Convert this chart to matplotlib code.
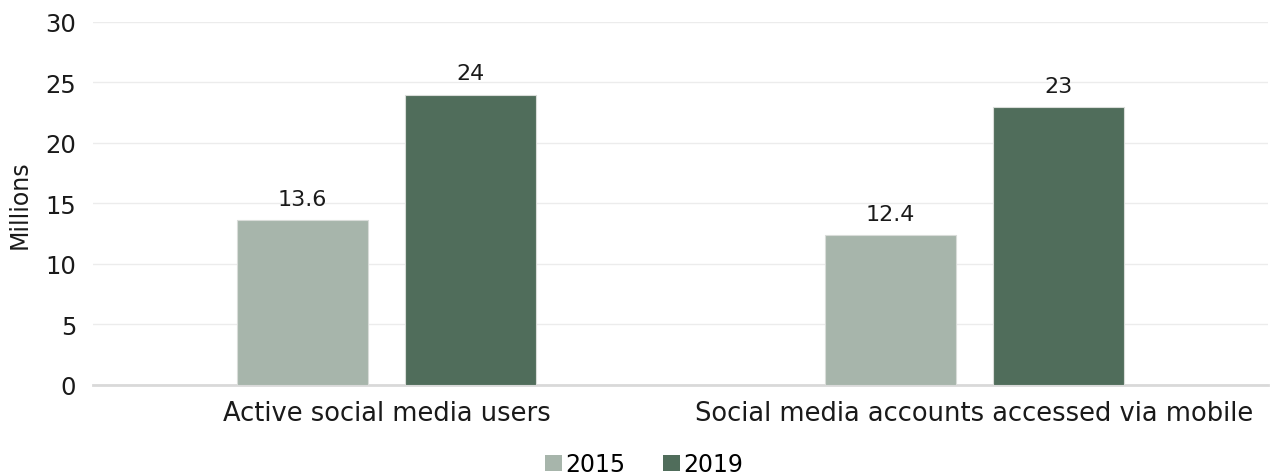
import numpy as np
import matplotlib
matplotlib.use('Agg')
import matplotlib.pyplot as plt
from matplotlib.patches import Patch

plt.rcParams['font.family'] = ['DejaVu Sans']

categories = ['Active social media users', 'Social media accounts accessed via mobile']
years = ['2015', '2019']
values_2015 = [13.6, 12.4]
values_2019 = [24, 23]
labels_2015 = ['13.6', '12.4']
labels_2019 = ['24', '23']

colors = ['#a7b5ab', '#506d5b']
txt = '#1a1a1a'

fig = plt.figure(figsize=(12.88, 4.77), dpi=100)
ax = fig.add_axes([0.0722, 0.1908, 0.9123, 0.761])

x = np.arange(len(categories))
w = 0.223
off = 0.143
b1 = ax.bar(x - off, values_2015, w, color=colors[0], edgecolor='#d9dcd9', linewidth=0.8, zorder=3)
b2 = ax.bar(x + off, values_2019, w, color=colors[1], edgecolor='#d9dcd9', linewidth=0.8, zorder=3)

for bars, labs in ((b1, labels_2015), (b2, labels_2019)):
    for rect, lab in zip(bars, labs):
        ax.annotate(lab, (rect.get_x() + rect.get_width() / 2, rect.get_height()),
                    xytext=(0, 8), textcoords='offset points', ha='center', va='bottom',
                    fontsize=16, color=txt)

ax.set_xlim(-0.5, 1.5)
ax.set_ylim(0, 30)
ax.set_yticks(range(0, 31, 5))
ax.yaxis.grid(True, color='#ececec', linewidth=1, zorder=0)
ax.set_axisbelow(True)
for s in ['top', 'right', 'left']:
    ax.spines[s].set_visible(False)
ax.spines['bottom'].set_color('#d9d9d9')
ax.spines['bottom'].set_linewidth(2)
ax.tick_params(axis='both', length=0, colors=txt)
ax.tick_params(axis='y', pad=12, labelsize=17.5)
ax.tick_params(axis='x', pad=11, labelsize=18.5)
ax.set_xticks(x)
ax.set_xticklabels(categories)
ax.set_ylabel('Millions', fontsize=17, color=txt, labelpad=10)

handles = [Patch(facecolor=c, edgecolor='none') for c in colors]
fig.legend(handles, years, loc='lower center', ncol=2, frameon=False, fontsize=17,
           bbox_to_anchor=(0.5, -0.045), handlelength=0.7, handleheight=0.7,
           handletextpad=0.15, columnspacing=1.6)

fig.savefig('out.png', dpi=100)
